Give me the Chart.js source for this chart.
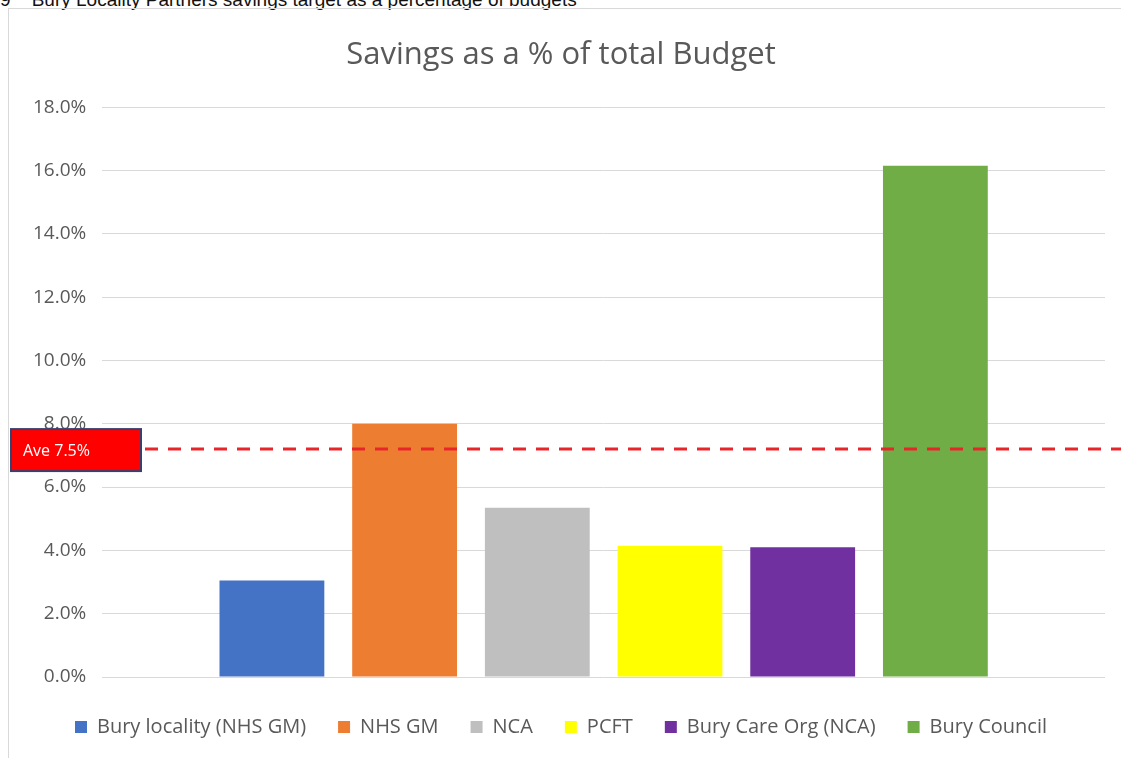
<!DOCTYPE html>
<html>
<head>
<meta charset="utf-8">
<script src="https://cdn.jsdelivr.net/npm/chart.js@4.4.1/dist/chart.umd.min.js"></script>
<style>
  body{margin:0;background:#fff;width:1121px;height:758px;overflow:hidden;position:relative;font-family:"Liberation Sans",Arial,sans-serif;}
  #caption{position:absolute;left:0;top:-11px;font-size:19px;color:#111;white-space:pre;}
  #box{position:absolute;left:8px;top:8px;width:1125px;height:760px;border:1px solid #d9d9d9;box-sizing:border-box;}
  #wrap{position:absolute;left:9px;top:9px;width:1112px;height:749px;}
</style>
</head>
<body>
<div id="caption">9    Bury Locality Partners savings target as a percentage of budgets</div>
<div id="box"></div>
<div id="wrap"><canvas id="savingsChart"></canvas></div>
<script>
// savings as % of total budget
const seriesNames = ['Bury locality (NHS GM)','NHS GM','NCA','PCFT','Bury Care Org (NCA)','Bury Council'];
const seriesValues = [3.05, 8.0, 5.35, 4.15, 4.1, 16.15];
const seriesColors = ['#4472c4','#ed7d31','#bfbfbf','#ffff00','#7030a0','#70ad47'];
const yTicks = [0,2,4,6,8,10,12,14,16,18];
const aveLineValue = [7.2];
const aveLabel = ['Ave 7.5%'];

const fontFam = '"Open Sans", "Noto Sans", sans-serif';

// dashed average line + red label box
const aveLinePlugin = {
  id:'aveLine',
  afterDatasetsDraw(chart){
    const ctx=chart.ctx, ys=chart.scales.y;
    const y=ys.getPixelForValue(aveLineValue[0]);
    ctx.save();
    ctx.strokeStyle='#e8262a'; ctx.lineWidth=3; ctx.setLineDash([13,10]);
    ctx.beginPath(); ctx.moveTo(136,y); ctx.lineTo(chart.width,y); ctx.stroke();
    ctx.setLineDash([]);
    ctx.fillStyle='#ff0000'; ctx.fillRect(2,y-20,130,42);
    ctx.strokeStyle='#3b3f6e'; ctx.lineWidth=2; ctx.strokeRect(2,y-20,130,42);
    ctx.fillStyle='#fff'; ctx.font='16px '+fontFam; ctx.textBaseline='middle';
    ctx.fillText(aveLabel[0],14,y+2);
    ctx.restore();
  }
};

let savingsChart;
function initSavingsChart(){
  const c=document.getElementById('savingsChart'); if(!c) return;
  savingsChart = new Chart(c.getContext('2d'),{
    type:'bar',
    data:{
      labels:[''],
      datasets: seriesNames.map((n,i)=>({label:n,data:[seriesValues[i]],backgroundColor:seriesColors[i],borderWidth:0}))
    },
    options:{
      responsive:true, maintainAspectRatio:false, animation:false,
      categoryPercentage:0.794, barPercentage:0.79,
      layout:{padding:{left:8,right:16,top:10,bottom:11}},
      plugins:{
        title:{display:true,text:'Savings as a % of total Budget',color:'#595959',font:{family:fontFam,size:31,weight:'normal'},padding:{top:18,bottom:33}},
        legend:{position:'bottom',labels:{color:'#595959',font:{family:fontFam,size:20},boxWidth:12,boxHeight:12,padding:32}},
        tooltip:{enabled:false}
      },
      scales:{
        x:{grid:{display:false},border:{display:false},ticks:{display:false}},
        y:{min:0,max:18,
           afterBuildTicks:(ax)=>{ax.ticks=yTicks.map(v=>({value:v}));},
           ticks:{color:'#595959',font:{family:fontFam,size:19},padding:16,callback:v=>v.toFixed(1)+'%'},
           grid:{color:'#d9d9d9',drawTicks:false},border:{display:false}}
      }
    },
    plugins:[aveLinePlugin]
  });
}
document.addEventListener('DOMContentLoaded', initSavingsChart);
</script>
</body>
</html>
